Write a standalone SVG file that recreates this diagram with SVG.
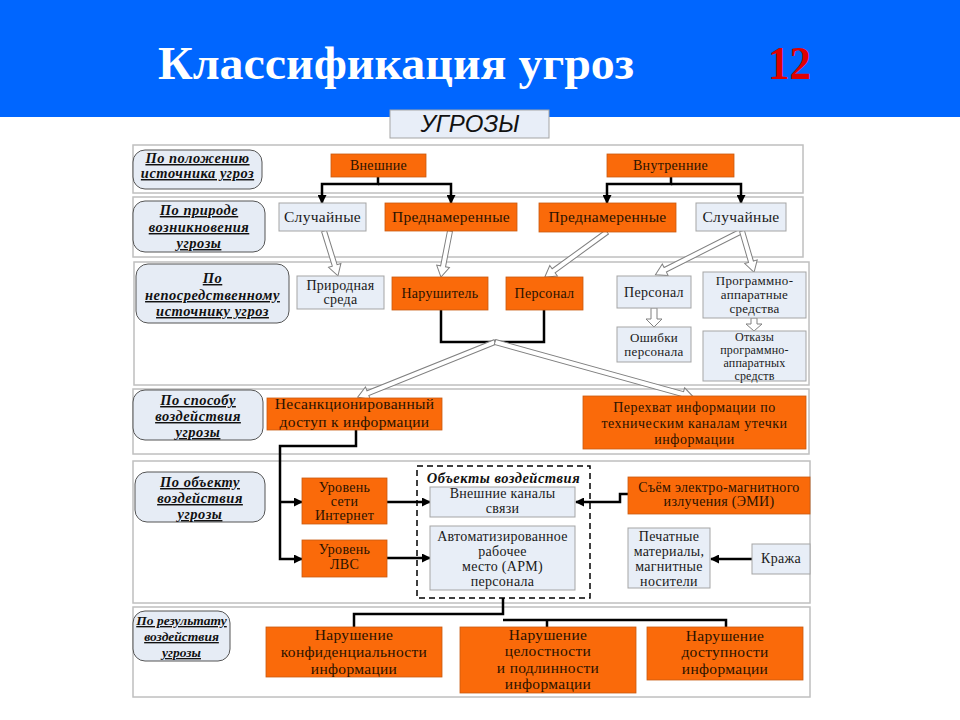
<svg xmlns="http://www.w3.org/2000/svg" width="960" height="720" viewBox="0 0 960 720">
<defs>
<marker id="ah" markerWidth="9" markerHeight="9" refX="8" refY="4.5" orient="auto" markerUnits="userSpaceOnUse">
<path d="M0,0 L9,4.5 L0,9 z" fill="#000"/>
</marker>
<style>
.row{fill:#fff;stroke:#BFBFBF;stroke-width:1.5}
.pill{fill:#E6ECF5;stroke:#555;stroke-width:1}
.pt{font-weight:bold;font-style:italic;font-size:14.5px;text-decoration:underline;fill:#111;text-anchor:middle;letter-spacing:0.5px}
.or{fill:#FA6A0A;stroke:#C85A10;stroke-width:0.8}
.lt{fill:#E8EEF7;stroke:#A5A5A5;stroke-width:1}
.t{font-size:14px;text-anchor:middle;letter-spacing:0.3px}
.to{fill:#2A1200}
.tl{fill:#1A1A1A}
.big{font-size:15.5px}
.mid{font-size:14px;letter-spacing:0.5px}
.sm{font-size:13px}
.xs{font-size:12px;letter-spacing:0.2px}
.ln{fill:none;stroke:#000;stroke-width:2.5}
.ha{fill:#fff;stroke:#808080;stroke-width:1}
</style>
</defs>
<rect x="0" y="0" width="960" height="720" fill="#fff"/>
<rect x="0" y="0" width="960" height="117" fill="#0066FF"/>
<text x="158" y="79" font-family="Liberation Serif, serif" font-weight="bold" font-size="46" fill="#fff" textLength="476" lengthAdjust="spacingAndGlyphs">Классификация угроз</text>
<text x="768" y="79" font-family="Liberation Serif, serif" font-weight="bold" font-size="46" fill="#E00000" textLength="43" lengthAdjust="spacingAndGlyphs">12</text>

<g id="rows">
<rect class="row" x="133" y="145" width="670" height="48"/>
<rect class="row" x="133" y="197" width="670" height="60"/>
<rect class="row" x="134" y="262" width="675" height="123"/>
<rect class="row" x="133" y="389" width="676" height="65"/>
<rect class="row" x="133" y="461" width="677" height="142"/>
<rect class="row" x="133" y="607" width="677" height="90"/>
</g>

<g id="root">
<rect x="390" y="110" width="159" height="28" fill="#E8EEF8" stroke="#A5A5A5" stroke-width="1"/>
<text x="470" y="132" font-family="Liberation Sans, sans-serif" font-style="italic" font-size="24" fill="#111" text-anchor="middle" textLength="99" lengthAdjust="spacingAndGlyphs">УГРОЗЫ</text>
</g>

<g id="connectors">
<path class="ln" d="M378,177 V184 H322 V203" marker-end="url(#ah)"/>
<path class="ln" d="M378,184 H451 V203" marker-end="url(#ah)"/>
<path class="ln" d="M671,177 V184 H607 V203" marker-end="url(#ah)"/>
<path class="ln" d="M671,184 H741 V203" marker-end="url(#ah)"/>
<path class="ln" d="M441,310 V342 H544 V310"/>
<path class="ln" d="M356,430 V446 H280 V559 H302" marker-end="url(#ah)"/>
<path class="ln" d="M280,502 H302" marker-end="url(#ah)"/>
<path class="ln" d="M387,502 H430" marker-end="url(#ah)"/>
<path class="ln" d="M387,558 H430" marker-end="url(#ah)"/>
<path class="ln" d="M628,494 H620 V502 H576" marker-end="url(#ah)"/>
<path class="ln" d="M752,559 H711" marker-end="url(#ah)"/>
<path class="ln" d="M503,598 V614 H354 V627"/>
<path class="ln" d="M503,620 H726 V627"/>
<path class="ln" d="M547,620 V627"/>
<g class="ha">
<polygon transform="translate(324,231) rotate(72.7)" points="0,-2.5 36,-2.5 36,-6.5 47,0 36,6.5 36,2.5 0,2.5"/>
<polygon transform="translate(450,231) rotate(101.1)" points="0,-2.5 36,-2.5 36,-6.5 47,0 36,6.5 36,2.5 0,2.5"/>
<polygon transform="translate(607,232) rotate(144)" points="0,-2.5 66,-2.5 66,-6.5 77,0 66,6.5 66,2.5 0,2.5"/>
<polygon transform="translate(742,231) rotate(153.2)" points="0,-2.5 86,-2.5 86,-6.5 97,0 86,6.5 86,2.5 0,2.5"/>
<polygon transform="translate(742,231) rotate(73.7)" points="0,-2.5 32,-2.5 32,-6.5 43,0 32,6.5 32,2.5 0,2.5"/>
<polygon transform="translate(654,308) rotate(90)" points="0,-3 11,-3 11,-8 19,0 11,8 11,3 0,3"/>
<polygon transform="translate(754,318) rotate(90)" points="0,-3 6,-3 6,-8 13,0 6,8 6,3 0,3"/>
<polygon transform="translate(495,342) rotate(158.1)" points="0,-2.5 137,-2.5 137,-6.5 148,0 137,6.5 137,2.5 0,2.5"/>
<polygon transform="translate(495,342) rotate(15.5)" points="0,-2.5 195,-2.5 195,-6.5 206,0 195,6.5 195,2.5 0,2.5"/>
</g>
</g>

<g id="nodes" font-family="Liberation Serif, serif">
<g id="label-1">
<rect class="pill" x="133" y="150" width="129" height="39" rx="12"/>
<text class="pt" x="197.5" y="163">По положению</text>
<text class="pt" x="197.5" y="178">источника угроз</text>
</g>
<g id="label-2">
<rect class="pill" x="133" y="201" width="132" height="51" rx="12"/>
<text class="pt" x="199" y="215">По природе</text>
<text class="pt" x="199" y="232">возникновения</text>
<text class="pt" x="199" y="248">угрозы</text>
</g>
<g id="label-3">
<rect class="pill" x="136" y="264" width="153" height="59" rx="12"/>
<text class="pt" x="212.5" y="283">По</text>
<text class="pt" x="212.5" y="300">непосредственному</text>
<text class="pt" x="212.5" y="316">источнику угроз</text>
</g>
<g id="label-4">
<rect class="pill" x="133" y="390" width="130" height="50" rx="12"/>
<text class="pt" x="198" y="405">По способу</text>
<text class="pt" x="198" y="421">воздействия</text>
<text class="pt" x="198" y="437">угрозы</text>
</g>
<g id="label-5">
<rect class="pill" x="135" y="472" width="130" height="50" rx="12"/>
<text class="pt" x="200" y="487">По объекту</text>
<text class="pt" x="200" y="503">воздействия</text>
<text class="pt" x="200" y="519">угрозы</text>
</g>
<g id="label-6">
<rect class="pill" x="133" y="611" width="97" height="50" rx="12"/>
<text class="pt" x="181.5" y="625" style="font-size:13.5px;letter-spacing:0">По результату</text>
<text class="pt" x="181.5" y="641" style="font-size:13.5px;letter-spacing:0">воздействия</text>
<text class="pt" x="181.5" y="657" style="font-size:13.5px;letter-spacing:0">угрозы</text>
</g>

<g id="vneshnie">
<rect class="or" x="331" y="154" width="95" height="23"/>
<text class="t to" x="378.5" y="170">Внешние</text>
</g>
<g id="vnutrennie">
<rect class="or" x="607" y="154" width="127" height="23"/>
<text class="t to" x="670.5" y="170">Внутренние</text>
</g>
<g id="sluch-1">
<rect class="lt" x="279" y="203" width="87" height="28"/>
<text class="t tl big" x="322.5" y="222">Случайные</text>
</g>
<g id="pred-1">
<rect class="or" x="385" y="203" width="132" height="28"/>
<text class="t to big" x="451" y="222">Преднамеренные</text>
</g>
<g id="pred-2">
<rect class="or" x="539" y="203" width="137" height="29"/>
<text class="t to big" x="607.5" y="222">Преднамеренные</text>
</g>
<g id="sluch-2">
<rect class="lt" x="696" y="203" width="90" height="28"/>
<text class="t tl big" x="741" y="222">Случайные</text>
</g>

<g id="prirodnaya">
<rect class="lt" x="297" y="276" width="87" height="33"/>
<text class="t tl" x="340.5" y="290">Природная</text>
<text class="t tl" x="340.5" y="304">среда</text>
</g>
<g id="narushitel">
<rect class="or" x="392" y="277" width="96" height="33"/>
<text class="t to" x="440" y="298">Нарушитель</text>
</g>
<g id="personal-1">
<rect class="or" x="506" y="277" width="77" height="33"/>
<text class="t to" x="544.5" y="298">Персонал</text>
</g>
<g id="personal-2">
<rect class="lt" x="617" y="276" width="74" height="32"/>
<text class="t tl" x="654" y="297">Персонал</text>
</g>
<g id="pas">
<rect class="lt" x="703" y="272" width="103" height="46"/>
<text class="t tl sm" x="754.5" y="285">Программно-</text>
<text class="t tl sm" x="754.5" y="299">аппаратные</text>
<text class="t tl sm" x="754.5" y="313">средства</text>
</g>
<g id="oshibki">
<rect class="lt" x="617" y="327" width="74" height="35"/>
<text class="t tl sm" x="654" y="342">Ошибки</text>
<text class="t tl sm" x="654" y="356">персонала</text>
</g>
<g id="otkazy">
<rect class="lt" x="703" y="331" width="103" height="50"/>
<text class="t tl xs" x="754.5" y="341">Отказы</text>
<text class="t tl xs" x="754.5" y="354">программно-</text>
<text class="t tl xs" x="754.5" y="367">аппаратных</text>
<text class="t tl xs" x="754.5" y="380">средств</text>
</g>

<g id="nsd">
<rect class="or" x="267" y="398" width="175" height="32"/>
<text class="t to big" x="354.5" y="409">Несанкционированный</text>
<text class="t to big" x="354.5" y="427">доступ к информации</text>
</g>
<g id="perehvat">
<rect class="or" x="583" y="396" width="223" height="53"/>
<text class="t to mid" x="694.5" y="412">Перехват информации по</text>
<text class="t to mid" x="694.5" y="428">техническим каналам утечки</text>
<text class="t to mid" x="694.5" y="444">информации</text>
</g>

<g id="internet">
<rect class="or" x="302" y="478" width="85" height="46"/>
<text class="t to" x="344.5" y="492">Уровень</text>
<text class="t to" x="344.5" y="506">сети</text>
<text class="t to" x="344.5" y="520">Интернет</text>
</g>
<g id="lvs">
<rect class="or" x="302" y="540" width="85" height="37"/>
<text class="t to" x="344.5" y="554">Уровень</text>
<text class="t to" x="344.5" y="569">ЛВС</text>
</g>
<g id="objects">
<rect x="417" y="466" width="173" height="132" fill="none" stroke="#000" stroke-width="1.5" stroke-dasharray="6,4"/>
<text x="503.5" y="483" font-weight="bold" font-style="italic" font-size="14.5" fill="#111" text-anchor="middle" letter-spacing="0.5">Объекты воздействия</text>
</g>
<g id="kanaly">
<rect class="lt" x="430" y="487" width="145" height="30"/>
<text class="t tl" x="502.5" y="498">Внешние каналы</text>
<text class="t tl" x="502.5" y="513">связи</text>
</g>
<g id="arm">
<rect class="lt" x="430" y="526" width="145" height="64"/>
<text class="t tl" x="502.5" y="541">Автоматизированное</text>
<text class="t tl" x="502.5" y="556">рабочее</text>
<text class="t tl" x="502.5" y="571">место (АРМ)</text>
<text class="t tl" x="502.5" y="586">персонала</text>
</g>
<g id="emi">
<rect class="or" x="628" y="477" width="182" height="37"/>
<text class="t to" x="719" y="492">Съём электро-магнитного</text>
<text class="t to" x="719" y="506">излучения (ЭМИ)</text>
</g>
<g id="pechatnye">
<rect class="lt" x="628" y="528" width="82" height="60"/>
<text class="t tl" x="669" y="541">Печатные</text>
<text class="t tl" x="669" y="556">материалы,</text>
<text class="t tl" x="669" y="571">магнитные</text>
<text class="t tl" x="669" y="586">носители</text>
</g>
<g id="krazha">
<rect class="lt" x="752" y="544" width="58" height="30"/>
<text class="t tl" x="781" y="563">Кража</text>
</g>

<g id="konf">
<rect class="or" x="266" y="627" width="176" height="50"/>
<text class="t to big" x="354" y="640">Нарушение</text>
<text class="t to big" x="354" y="657">конфиденциальности</text>
<text class="t to big" x="354" y="674">информации</text>
</g>
<g id="cel">
<rect class="or" x="460" y="627" width="176" height="66"/>
<text class="t to big" x="548" y="640">Нарушение</text>
<text class="t to big" x="548" y="656">целостности</text>
<text class="t to big" x="548" y="673">и подлинности</text>
<text class="t to big" x="548" y="689">информации</text>
</g>
<g id="dost">
<rect class="or" x="647" y="627" width="156" height="53"/>
<text class="t to big" x="725" y="641">Нарушение</text>
<text class="t to big" x="725" y="657">доступности</text>
<text class="t to big" x="725" y="674">информации</text>
</g>
</g>
</svg>
